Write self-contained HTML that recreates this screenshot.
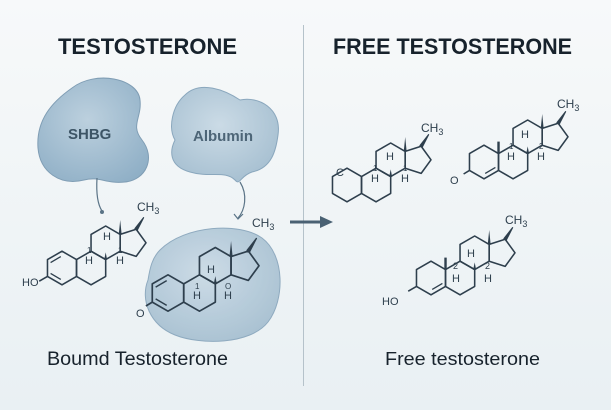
<!DOCTYPE html>
<html><head><meta charset="utf-8"><style>
html,body{margin:0;padding:0;}
body{width:611px;height:410px;overflow:hidden;background:#f1f5f7;}
svg{display:block}
</style></head><body>
<svg width="611" height="410" viewBox="0 0 611 410" xmlns="http://www.w3.org/2000/svg">
<defs>
<linearGradient id="bg" x1="0" y1="0" x2="0" y2="1">
<stop offset="0" stop-color="#f7f9fa"/><stop offset="1" stop-color="#e9f0f3"/>
</linearGradient>
<radialGradient id="blob" cx="0.45" cy="0.4" r="0.7">
<stop offset="0" stop-color="#bcd0de"/><stop offset="1" stop-color="#8fafc6"/>
</radialGradient>
<radialGradient id="blob2" cx="0.45" cy="0.4" r="0.7">
<stop offset="0" stop-color="#cbdbe6"/><stop offset="1" stop-color="#a3bdcf"/>
</radialGradient>
<g id="ster" fill="none" stroke="#2e3f4d" stroke-width="1.3" stroke-linejoin="round">
<polygon points="0,-14 12.1,-7 12.1,7 0,14 -12.1,7 -12.1,-7"/>
<polygon points="24.2,-14 36.4,-7 36.4,7 24.2,14 12.1,7 12.1,-7"/>
<polygon points="36.4,-35 48.5,-28 48.5,-14 36.4,-7 24.2,-14 24.2,-28"/>
<polygon points="48.5,-28 48.5,-14 61.8,-9.7 70,-21 61.8,-32.3"/>
<polygon points="47.3,-28 49.7,-28 48.5,-40" fill="#2e3f4d" stroke="none"/>
<polygon points="60.8,-32.8 62.8,-31.8 68,-42" fill="#2e3f4d" stroke="#2e3f4d" stroke-width="1"/>
<polygon points="35.2,-7 37.6,-7 36.4,-13" fill="#2e3f4d" stroke="none"/>
</g>
</defs>
<rect width="611" height="410" fill="url(#bg)"/>
<line x1="303.5" y1="25" x2="303.5" y2="386" stroke="#b5c2ca" stroke-width="1"/>

<text x="58" y="54" font-family="Liberation Sans, sans-serif" font-weight="bold" font-size="22" fill="#17222c" textLength="179" lengthAdjust="spacingAndGlyphs">TESTOSTERONE</text>
<text x="333" y="54" font-family="Liberation Sans, sans-serif" font-weight="bold" font-size="22" fill="#17222c" textLength="239" lengthAdjust="spacingAndGlyphs">FREE TESTOSTERONE</text>

<path d="M72,88 C95,70 138,78 140,100 C142,118 130,125 142,140 C156,158 146,180 125,182 C105,184 100,176 84,180 C60,186 40,172 38,148 C36,120 52,102 72,88 Z" fill="url(#blob)" stroke="#7f9db4" stroke-width="1"/>
<text x="68" y="139" font-family="Liberation Sans, sans-serif" font-weight="bold" font-size="15" fill="#3d5566">SHBG</text>
<path d="M185,95 C200,80 225,90 240,100 C258,96 282,108 278,135 C276,150 272,168 252,172 C240,176 240,186 235,180 C225,170 210,178 190,172 C168,166 170,150 175,140 C168,128 172,106 185,95 Z" fill="url(#blob2)" stroke="#8aa7bd" stroke-width="1"/>
<text x="193" y="141" font-family="Liberation Sans, sans-serif" font-weight="bold" font-size="15" fill="#4d6577">Albumin</text>

<path d="M97,178 C96,195 98,205 102,211" fill="none" stroke="#5b7487" stroke-width="1.2"/>
<circle cx="102" cy="212" r="2" fill="#5b7487"/>
<path d="M240,182 C248,195 245,210 238,218" fill="none" stroke="#5b7487" stroke-width="1.2"/>
<path d="M234,214 L238,219 L243,214" fill="none" stroke="#5b7487" stroke-width="1.2"/>

<path d="M160,250 C185,225 240,222 262,238 C285,255 285,300 268,322 C250,345 200,345 175,335 C150,325 140,300 148,280 C150,268 152,258 160,250 Z" fill="url(#blob2)" stroke="#8aa7bd" stroke-width="1" opacity="0.95"/>

<g transform="translate(62,268) scale(1.2)">
<use href="#ster"/>
<line x1="-9.5" y1="-4.5" x2="-1" y2="-9.5" stroke="#2e3f4d" stroke-width="1.1"/>
<line x1="-9.5" y1="4.5" x2="-1" y2="9.5" stroke="#2e3f4d" stroke-width="1.1"/>
<line x1="-12.1" y1="7" x2="-19" y2="11" stroke="#2e3f4d" stroke-width="1.3"/>
</g>
<g font-family="Liberation Sans, sans-serif" font-size="11" fill="#2e3f4d">
<text x="22" y="286">HO</text>
<text x="137" y="211" font-size="12">CH<tspan font-size="9" dy="3">3</tspan></text>
<text x="87" y="253" font-size="8">1</text><text x="85" y="264">H</text>
<text x="103" y="240">H</text>
<text x="118" y="253" font-size="8">1</text><text x="116" y="264">H</text>
</g>

<g transform="translate(168,293) scale(1.3)">
<use href="#ster"/>
<line x1="-9.5" y1="-4.5" x2="-1" y2="-9.5" stroke="#2e3f4d" stroke-width="1.1"/>
<line x1="-9.5" y1="4.5" x2="-1" y2="9.5" stroke="#2e3f4d" stroke-width="1.1"/>
<line x1="-12.1" y1="7" x2="-17" y2="10" stroke="#2e3f4d" stroke-width="1.3"/>
</g>
<g font-family="Liberation Sans, sans-serif" font-size="11" fill="#2e3f4d">
<text x="136" y="317">O</text>
<text x="252" y="227" font-size="12">CH<tspan font-size="9" dy="3">3</tspan></text>
<text x="195" y="289" font-size="8">1</text><text x="193" y="299">H</text>
<text x="207" y="273">H</text>
<text x="225" y="289" font-size="8">O</text><text x="224" y="299">H</text>
</g>

<line x1="290" y1="222" x2="322" y2="222" stroke="#4a6173" stroke-width="3"/>
<polygon points="320,216 333,222 320,228" fill="#4a6173"/>

<g transform="translate(347,185) scale(1.2)">
<use href="#ster"/>
</g>
<g font-family="Liberation Sans, sans-serif" font-size="11" fill="#2e3f4d">
<text x="336" y="176">C</text>
<text x="421" y="132" font-size="12">CH<tspan font-size="9" dy="3">3</tspan></text>
<text x="373" y="171" font-size="8">1</text><text x="371" y="182">H</text>
<text x="386" y="160">H</text>
<text x="403" y="171" font-size="8">1</text><text x="401" y="182">H</text>
</g>

<g transform="translate(484,162) scale(1.2)">
<use href="#ster"/>
<line x1="1" y1="9.5" x2="9.5" y2="4.5" stroke="#2e3f4d" stroke-width="1.1"/>
<line x1="-12.1" y1="7" x2="-17" y2="10" stroke="#2e3f4d" stroke-width="1.3"/>
<line x1="12.1" y1="-7" x2="12.1" y2="-17" stroke="#2e3f4d" stroke-width="2"/>
</g>
<g font-family="Liberation Sans, sans-serif" font-size="11" fill="#2e3f4d">
<text x="450" y="184">O</text>
<text x="557" y="108" font-size="12">CH<tspan font-size="9" dy="3">3</tspan></text>
<text x="509" y="149" font-size="8">1</text><text x="507" y="160">H</text>
<text x="521" y="138">H</text>
<text x="539" y="149" font-size="8">2</text><text x="537" y="160">H</text>
</g>

<g transform="translate(431,278) scale(1.2)">
<use href="#ster"/>
<line x1="1" y1="9.5" x2="9.5" y2="4.5" stroke="#2e3f4d" stroke-width="1.1"/>
<line x1="-12.1" y1="7" x2="-19" y2="11" stroke="#2e3f4d" stroke-width="1.3"/>
<line x1="12.1" y1="-7" x2="12.1" y2="-17" stroke="#2e3f4d" stroke-width="2"/>
</g>
<g font-family="Liberation Sans, sans-serif" font-size="11" fill="#2e3f4d">
<text x="382" y="305">HO</text>
<text x="505" y="224" font-size="12">CH<tspan font-size="9" dy="3">3</tspan></text>
<text x="453" y="269" font-size="9">2</text><text x="452" y="282">H</text>
<text x="467" y="257">H</text>
<text x="485" y="269" font-size="9">2</text><text x="484" y="282">H</text>
</g>

<text x="47" y="365" font-family="Liberation Sans, sans-serif" font-size="19" fill="#17222c" textLength="181" lengthAdjust="spacingAndGlyphs">Boumd Testosterone</text>
<text x="385" y="365" font-family="Liberation Sans, sans-serif" font-size="18" fill="#17222c" textLength="155" lengthAdjust="spacingAndGlyphs">Free testosterone</text>
</svg>
</body></html>
